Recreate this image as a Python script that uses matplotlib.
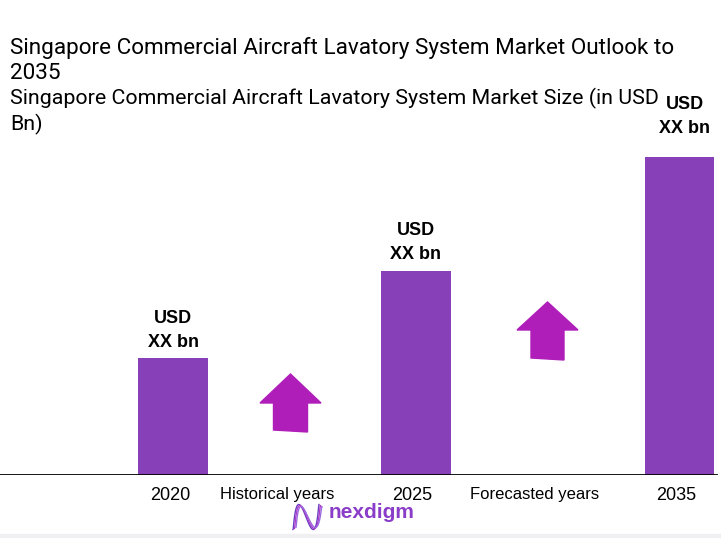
import numpy as np
import matplotlib.pyplot as plt
from matplotlib.patches import Polygon

years = ['2020', '2025', '2035']
market_size = [1.17, 2.04, 3.18]          # placeholder values, shown as "XX bn"
bar_labels = ['USD\nXX bn', 'USD\nXX bn', 'USD\nXX bn']
x_pos = [1.73, 4.155, 6.795]
period_labels = ['Historical years', 'Forecasted years']
period_pos = [2.77, 5.35]

title = 'Singapore Commercial Aircraft Lavatory System Market Outlook to\n2035'
subtitle = 'Singapore Commercial Aircraft Lavatory System Market Size (in USD\nBn)'

bar_color = '#8840B8'
arrow_color = '#B01EBA'

fig = plt.figure(figsize=(7.21, 5.38), dpi=100)
ax = fig.add_axes([0, 63 / 538, 1, 475 / 538])
ax.set_xlim(0, 7.21)
ax.set_ylim(0, 4.75)
ax.axis('off')

ax.bar(x_pos, market_size, width=0.70, color=bar_color, zorder=2)
label_gap = [0.07, 0.08, 0.2]
label_dx = [0, 0, 0.05]
for x, h, lab, g, dx in zip(x_pos, market_size, bar_labels, label_gap, label_dx):
    ax.text(x + dx, h + g, lab, ha='center', va='bottom',
            fontsize=13, fontweight='bold', family='Liberation Sans',
            linespacing=1.55)

ax.axhline(0, xmin=0, xmax=716 / 721, color='black', lw=2, zorder=3)

# growth arrows
def up_arrow(cx, base, tip, head_w, shaft_w, head_h):
    pts = [(cx - shaft_w / 2, base), (cx + shaft_w / 2, base - 0.02),
           (cx + shaft_w / 2, tip - head_h), (cx + head_w / 2, tip - head_h),
           (cx, tip), (cx - head_w / 2, tip - head_h),
           (cx - shaft_w / 2, tip - head_h)]
    ax.add_patch(Polygon(pts, closed=True, color=arrow_color, zorder=2))

up_arrow(2.905, 0.45, 1.01, 0.61, 0.34, 0.29)
up_arrow(5.475, 1.17, 1.73, 0.61, 0.33, 0.28)

# x labels below the baseline
for x, y in zip(x_pos, years):
    fig.text(x / 7.21 - 0.004, 1 - 496 / 538, y, ha='center', va='center',
             fontsize=13, family='Liberation Sans')
for x, lab in zip(period_pos, period_labels):
    fig.text(x / 7.21, 1 - 494 / 538, lab, ha='center', va='center',
             fontsize=12, family='Liberation Sans')

fig.text(10 / 721, 1 - 37 / 538, title, ha='left', va='top', fontsize=16.2,
         family='Roboto', linespacing=1.25)
fig.text(10 / 721, 1 - 88 / 538, subtitle, ha='left', va='top', fontsize=15.4,
         family='Roboto', linespacing=1.3)

# logo
t = np.linspace(0, 1, 120)
for k, c in enumerate(['#6A3FC0', '#B03ACB', '#9A6BE0']):
    xs = (293 + 1.5 * k + 26 * (t - 0.8 * np.sin(2 * np.pi * t) / (2 * np.pi))) / 721
    ys = 1 - (517 + (12.5 - k) * np.cos(3 * np.pi * t + 0.1 * k)) / 538
    fig.add_artist(plt.Line2D(xs, ys, color=c, lw=1.0))
fig.text(329 / 721, 1 - 513 / 538, 'nexdigm', ha='left', va='center',
         fontsize=15, fontweight='bold', color='#8A3DC8', family='Liberation Sans')

fig.patches.append(plt.Rectangle((0, 0), 1, 4 / 538, transform=fig.transFigure,
                                 color='#F0F0F2', zorder=0))

fig.savefig('out.png', dpi=100)
